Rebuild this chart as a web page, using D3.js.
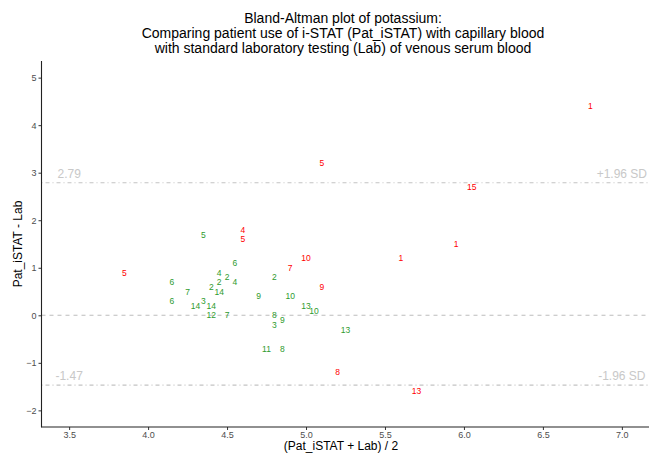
<!DOCTYPE html>
<html>
<head>
<meta charset="utf-8">
<script src="https://cdn.jsdelivr.net/npm/d3@7"></script>
<style>
  html, body { margin: 0; padding: 0; background: #fff; }
  svg { display: block; font-family: "Liberation Sans", Arial, Helvetica, sans-serif; }
</style>
</head>
<body>
<svg id="chart" width="649" height="456"></svg>
<script>
// ---- data ----
const titleLines = [
  "Bland-Altman plot of potassium:",
  "Comparing patient use of i-STAT (Pat_iSTAT) with capillary blood",
  "with standard laboratory testing (Lab) of venous serum blood"
];
const xTicks = [3.5, 4.0, 4.5, 5.0, 5.5, 6.0, 6.5, 7.0];
const yTicks = [-2, -1, 0, 1, 2, 3, 4, 5];
const xLimits = [3.5, 7.0];
const yLimits = [-2, 5];

// green (within agreement) points: mean, difference, patient label
const greenMean  = [4.35, 4.55, 4.45, 4.50, 4.45, 4.55, 4.40, 4.45, 4.80, 4.15, 4.25, 4.15, 4.30, 4.35,
                    4.40, 4.40, 4.50, 4.70, 4.90, 4.80, 4.85, 4.80, 5.00, 5.05, 5.25, 4.75, 4.85];
const greenDiff  = [1.7, 1.1, 0.9, 0.8, 0.7, 0.7, 0.6, 0.5, 0.8, 0.7, 0.5, 0.3, 0.2, 0.3,
                    0.2, 0.0, 0.0, 0.4, 0.4, 0.0, -0.1, -0.2, 0.2, 0.1, -0.3, -0.7, -0.7];
const greenLabel = ["5", "6", "4", "2", "2", "4", "2", "14", "2", "6", "7", "6", "14", "3",
                    "14", "12", "7", "9", "10", "8", "9", "3", "13", "10", "13", "11", "8"];

// red points
const redMean  = [6.80, 5.10, 6.05, 4.60, 4.60, 5.95, 5.00, 5.60, 4.90, 3.85, 5.10, 5.20, 5.70];
const redDiff  = [4.4, 3.2, 2.7, 1.8, 1.6, 1.5, 1.2, 1.2, 1.0, 0.9, 0.6, -1.2, -1.6];
const redLabel = ["1", "5", "15", "4", "5", "1", "10", "1", "7", "5", "9", "8", "13"];

const upperLoA = 2.79;
const lowerLoA = -1.47;
const zeroLine = 0;
const loaLeftLabels = ["2.79", "-1.47"];
const loaRightLabels = ["+1.96 SD", "-1.96 SD"];
const xTitle = "(Pat_iSTAT + Lab) / 2";
const yTitle = "Pat_iSTAT - Lab";

// ---- layout ----
const W = 649, H = 456;
const panel = { left: 41.5, right: 649.5, top: 61, bottom: 427 };
const svg = d3.select("#chart");
svg.append("rect").attr("width", W).attr("height", H).attr("fill", "#fff");

function expand(lim, f) { const r = lim[1] - lim[0]; return [lim[0] - f * r, lim[1] + f * r]; }
const x = d3.scaleLinear().domain(expand(xLimits, 0.05)).range([panel.left, panel.right]);
const y = d3.scaleLinear().domain(expand(yLimits, 0.05)).range([panel.bottom, panel.top]);

// reference lines
const lineG = svg.append("g");
lineG.append("line")
  .attr("x1", panel.left).attr("x2", panel.right)
  .attr("y1", y(zeroLine)).attr("y2", y(zeroLine))
  .attr("stroke", "#BDBDBD").attr("stroke-width", 1.1).attr("stroke-dasharray", "4,4");
[upperLoA, lowerLoA].forEach(v => {
  lineG.append("line")
    .attr("x1", panel.left).attr("x2", panel.right)
    .attr("y1", y(v)).attr("y2", y(v))
    .attr("stroke", "#C4C4C4").attr("stroke-width", 1.1).attr("stroke-dasharray", "1,3,4,3");
});

// LoA labels
[upperLoA, lowerLoA].forEach((v, i) => {
  svg.append("text").attr("x", x(xLimits[0])).attr("y", y(v) - 5)
    .attr("text-anchor", "middle").attr("font-size", 12).attr("fill", "#C8C8C8")
    .text(loaLeftLabels[i]);
  svg.append("text").attr("x", x(xLimits[1])).attr("y", y(v) - 5)
    .attr("text-anchor", "middle").attr("font-size", 12).attr("fill", "#C8C8C8")
    .text(loaRightLabels[i]);
});

// points (as text labels)
const greenPts = greenMean.map((m, i) => ({ m, d: greenDiff[i], l: greenLabel[i] }));
const redPts = redMean.map((m, i) => ({ m, d: redDiff[i], l: redLabel[i] }));
function drawPts(pts, col) {
  svg.append("g").selectAll("text").data(pts).join("text")
    .attr("x", d => x(d.m)).attr("y", d => y(d.d))
    .attr("dy", "0.36em")
    .attr("text-anchor", "middle").attr("font-size", 8.5).attr("fill", col)
    .text(d => d.l);
}
drawPts(greenPts, "#2E9B2E");
drawPts(redPts, "#FF0000");

// axes
const xAxis = svg.append("g").attr("transform", `translate(0,${panel.bottom})`)
  .call(d3.axisBottom(x).tickValues(xTicks).tickFormat(d3.format(".1f")).tickSize(3).tickPadding(2));
const yAxis = svg.append("g").attr("transform", `translate(${panel.left},0)`)
  .call(d3.axisLeft(y).tickValues(yTicks).tickFormat(d3.format("d")).tickSize(3).tickPadding(2));
[xAxis, yAxis].forEach(a => {
  a.select(".domain").remove();
  a.selectAll(".tick line").attr("stroke", "#333").attr("stroke-width", 1);
  a.selectAll(".tick text").attr("fill", "#4D4D4D").attr("font-size", 9)
    .attr("font-family", "'Liberation Sans', Arial, sans-serif");
});
svg.append("line").attr("x1", panel.left).attr("x2", panel.left)
  .attr("y1", panel.top).attr("y2", panel.bottom + 0.5)
  .attr("stroke", "#222").attr("stroke-width", 1.1);
svg.append("line").attr("x1", panel.left).attr("x2", panel.right)
  .attr("y1", panel.bottom).attr("y2", panel.bottom)
  .attr("stroke", "#222").attr("stroke-width", 1.1);

// axis titles
svg.append("text").attr("x", 341).attr("y", 450)
  .attr("text-anchor", "middle").attr("font-size", 12).attr("fill", "#000").text(xTitle);
svg.append("text").attr("transform", `translate(22,244) rotate(-90)`)
  .attr("text-anchor", "middle").attr("font-size", 12).attr("fill", "#000").text(yTitle);

// title
titleLines.forEach((t, i) => {
  svg.append("text").attr("x", 343).attr("y", 23 + i * 15)
    .attr("text-anchor", "middle").attr("font-size", 14).attr("fill", "#000").text(t);
});
</script>
</body>
</html>
